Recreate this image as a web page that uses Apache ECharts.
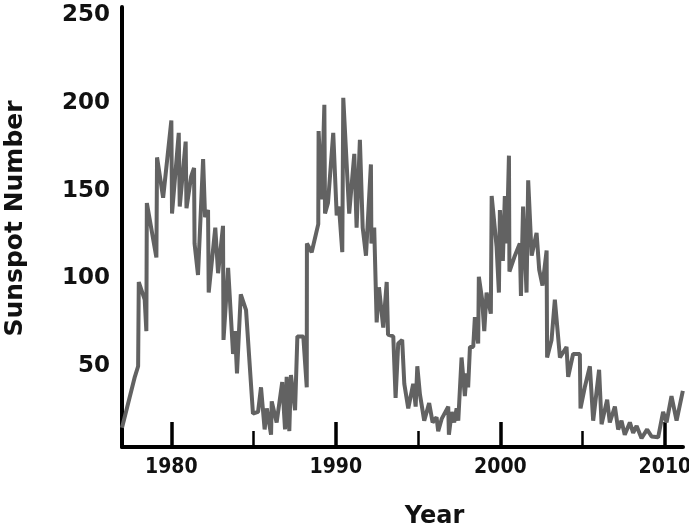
<!DOCTYPE html>
<html>
<head>
<meta charset="utf-8">
<script src="https://cdn.jsdelivr.net/npm/echarts@6/dist/echarts.min.js"></script>
<style>
  html, body { margin: 0; padding: 0; background: #fff; }
  #main { width: 689px; height: 531px; }
</style>
</head>
<body>
<div id="main"></div>
<script>
// sunspot number (year, value)
var years = [
  1977.00, 1977.78, 1977.98, 1978.02, 1978.38, 1978.48, 1978.51, 1979.09, 1979.13, 1979.50,
  1980.00, 1980.04, 1980.45, 1980.51, 1980.87, 1980.92, 1981.20, 1981.38, 1981.41, 1981.62,
  1981.93, 1982.05, 1982.23, 1982.27, 1982.67, 1982.84, 1983.14, 1983.17, 1983.45, 1983.75,
  1983.87, 1983.99, 1984.22, 1984.54, 1984.96, 1985.27, 1985.45, 1985.67,
  1985.80, 1986.06, 1986.10, 1986.40, 1986.74, 1986.91, 1987.01, 1987.17, 1987.27, 1987.52,
  1987.66, 1988.02, 1988.23, 1988.24, 1988.53, 1988.93, 1988.95, 1989.14, 1989.30, 1989.34,
  1989.52, 1989.84, 1990.05, 1990.19, 1990.39, 1990.45, 1990.81, 1991.12, 1991.26, 1991.46,
  1991.63, 1991.83, 1992.13, 1992.16, 1992.33, 1992.48, 1992.62, 1992.88, 1993.09, 1993.17,
  1993.49, 1993.63,
  1993.79, 1994.03, 1994.16, 1994.40, 1994.70, 1994.85, 1994.95, 1995.11, 1995.37, 1995.67,
  1995.88, 1996.12, 1996.22, 1996.43, 1996.83, 1996.87, 1997.04, 1997.19, 1997.34, 1997.44,
  1997.64, 1997.84, 1997.95, 1998.04, 1998.15, 1998.35, 1998.45, 1998.65, 1998.69, 1998.89,
  1999.02, 1999.16, 1999.42, 1999.47, 1999.77, 1999.91, 1999.97, 2000.15, 2000.27, 2000.39,
  2000.52, 2000.55, 2000.88, 2001.18, 2001.25, 2001.38, 2001.59, 2001.69, 2001.90,
  2002.20, 2002.36, 2002.56, 2002.81, 2002.84, 2003.11, 2003.31, 2003.62, 2004.02, 2004.12,
  2004.42, 2004.83, 2004.87, 2005.13, 2005.44, 2005.64, 2006.00, 2006.15, 2006.49, 2006.65,
  2006.96, 2007.16, 2007.36, 2007.56, 2007.87, 2008.07, 2008.28, 2008.58, 2008.92, 2009.19,
  2009.59, 2009.89, 2010.10, 2010.40, 2010.71, 2011.09
];
var sunspots = [
  15, 44, 50, 98, 88, 70, 143, 112, 169, 146,
  190, 137, 183, 141, 178, 140, 158, 163, 120, 102,
  168, 135, 139, 92, 129, 103, 130, 65, 106, 57,
  70, 46, 91, 82, 23, 24, 38, 14,
  26, 11, 30, 18, 41, 14, 44, 13, 45, 25,
  67, 67, 38, 120, 115, 131, 184, 145, 199, 137,
  143, 183, 136, 141, 115, 203, 137, 171, 129, 179,
  129, 113, 165, 120, 129, 75, 95, 72, 98, 68,
  67, 32,
  63, 65, 40, 26, 40, 27, 50, 34, 19, 29,
  18, 21, 13, 20, 27, 11, 24, 18, 26, 19,
  55, 33, 46, 38, 61, 61, 78, 63, 101, 88,
  70, 92, 80, 147, 118, 92, 139, 110, 147, 120,
  170, 104, 113, 120, 90, 141, 92, 156, 113,
  126, 105, 96, 116, 55, 65, 88, 55, 61, 44,
  57, 57, 26, 38, 50, 19, 48, 17, 31, 18,
  27, 14, 19, 11, 18, 12, 16, 9, 14, 10,
  9.5, 24, 18, 33, 19, 36
];
var yearTicks = [1980, 1990, 2000, 2010];
var minorYearTicks = [1985, 1995, 2005];
var valueTicks = [50, 100, 150, 200, 250];

var points = years.map(function (y, i) { return [y, sunspots[i]]; });

var chart = echarts.init(document.getElementById('main'));
var xMin = 1977, xMax = 2011.1;
var option = {
  animation: false,
  backgroundColor: '#fff',
  grid: { left: 122, right: 6, top: 7, bottom: 84, outerBoundsMode: 'none', containLabel: false },
  xAxis: [{
    type: 'value',
    min: xMin,
    max: xMax,
    name: 'Year',
    nameLocation: 'middle',
    nameGap: 58,
    nameTextStyle: {
      fontFamily: 'DejaVu Sans', fontWeight: 'bold', fontSize: 24,
      color: '#111', padding: [0, 0, 0, 64]
    },
    axisLine: { onZero: false, lineStyle: { color: '#000', width: 4 } },
    axisTick: {
      inside: true, length: 25, customValues: yearTicks,
      lineStyle: { color: '#000', width: 3.5 }
    },
    axisLabel: {
      customValues: yearTicks, margin: 10,
      formatter: function (v) { return String(v); },
      fontFamily: "'Liberation Sans Narrow', 'DejaVu Sans Condensed', sans-serif",
      fontWeight: 'bold', fontSize: 21, color: '#111'
    },
    splitLine: { show: false }
  }, {
    type: 'value',
    min: xMin,
    max: xMax,
    position: 'bottom',
    axisLine: { show: false },
    axisTick: {
      inside: true, length: 16, customValues: minorYearTicks,
      lineStyle: { color: '#000', width: 2.5 }
    },
    axisLabel: { show: false },
    splitLine: { show: false }
  }],
  yAxis: {
    type: 'value',
    min: 4,
    max: 254.7,
    name: 'Sunspot Number',
    nameLocation: 'middle',
    nameRotate: 90,
    nameGap: 94,
    nameTextStyle: {
      fontFamily: 'DejaVu Sans', fontWeight: 'bold', fontSize: 25,
      color: '#111', padding: [0, 0, 0, 17]
    },
    axisLine: { show: true, lineStyle: { color: '#000', width: 4 } },
    axisTick: { show: false },
    axisLabel: {
      customValues: valueTicks, margin: 12,
      fontFamily: 'DejaVu Sans', fontWeight: 'bold', fontSize: 23, color: '#111'
    },
    splitLine: { show: false }
  },
  series: [{
    type: 'line',
    xAxisIndex: 0,
    data: points,
    showSymbol: false,
    lineStyle: { color: '#626262', width: 4 }
  }]
};
chart.setOption(option);
</script>
</body>
</html>
